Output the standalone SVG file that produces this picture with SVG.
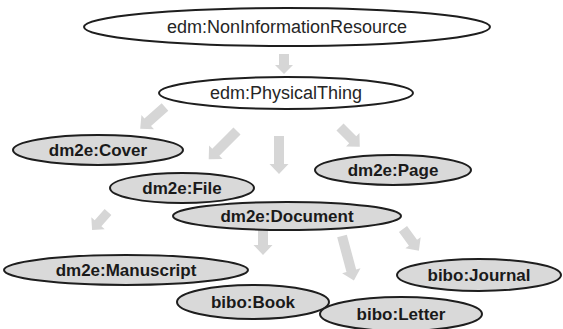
<svg xmlns="http://www.w3.org/2000/svg" width="563" height="329" viewBox="0 0 563 329">
  <style>
    .bg { fill: #ffffff; }
    .node-plain ellipse { fill: #ffffff; stroke: #1e1e1e; stroke-width: 2; }
    .node-sub ellipse { fill: #d9d9d9; stroke: #1e1e1e; stroke-width: 2; }
    .node-plain text { font-family: "Liberation Sans", Arial, sans-serif; font-size: 18px; fill: #262626; text-anchor: middle; }
    .node-sub text { font-family: "Liberation Sans", Arial, sans-serif; font-size: 17px; font-weight: bold; fill: #1a1a1a; text-anchor: middle; }
    .arrow { fill: #d6d6d6; stroke: none; }
  </style>
  <rect class="bg" x="0" y="0" width="563" height="329"/>

  <!-- block arrows: local shape points along +x, tail at origin -->
  <g id="connectors">
    <path class="arrow" transform="translate(284,54) rotate(90)" d="M0,-5 H11 V-9 L20,0 L11,9 V5 H0 Z"/>
    <path class="arrow" transform="translate(165,107) rotate(138.7)" d="M0,-5 H23 V-9.5 L33,0 L23,9.5 V5 H0 Z"/>
    <path class="arrow" transform="translate(237,131) rotate(135)" d="M0,-5 H30 V-9.5 L40,0 L30,9.5 V5 H0 Z"/>
    <path class="arrow" transform="translate(279,136) rotate(90)" d="M0,-5 H28 V-9.5 L38,0 L28,9.5 V5 H0 Z"/>
    <path class="arrow" transform="translate(340,127) rotate(45)" d="M0,-5 H18 V-9.5 L28,0 L18,9.5 V5 H0 Z"/>
    <path class="arrow" transform="translate(108,212) rotate(131.6)" d="M0,-4.5 H15 V-9 L24,0 L15,9 V4.5 H0 Z"/>
    <path class="arrow" transform="translate(263,229) rotate(90)" d="M0,-5 H16 V-9.5 L26,0 L16,9.5 V5 H0 Z"/>
    <path class="arrow" transform="translate(342,236) rotate(75)" d="M0,-5 H36 V-9.5 L46,0 L36,9.5 V5 H0 Z"/>
    <path class="arrow" transform="translate(403,229) rotate(54)" d="M0,-5 H17 V-9.5 L27,0 L17,9.5 V5 H0 Z"/>
  </g>

  <g id="nonInformationResource" class="node-plain">
    <ellipse cx="287" cy="27" rx="203" ry="19"/>
    <text x="287" y="33">edm:NonInformationResource</text>
  </g>
  <g id="physicalThing" class="node-plain">
    <ellipse cx="286" cy="93" rx="127" ry="16"/>
    <text x="286" y="99">edm:PhysicalThing</text>
  </g>
  <g id="cover" class="node-sub">
    <ellipse cx="98" cy="150" rx="85" ry="15"/>
    <text x="98" y="156">dm2e:Cover</text>
  </g>
  <g id="file" class="node-sub">
    <ellipse cx="182" cy="188" rx="72" ry="15"/>
    <text x="182" y="194">dm2e:File</text>
  </g>
  <g id="page" class="node-sub">
    <ellipse cx="393" cy="170" rx="78" ry="15"/>
    <text x="393" y="176">dm2e:Page</text>
  </g>
  <g id="document" class="node-sub">
    <ellipse cx="287" cy="216" rx="114" ry="14"/>
    <text x="287" y="222">dm2e:Document</text>
  </g>
  <g id="manuscript" class="node-sub">
    <ellipse cx="126" cy="270" rx="122" ry="15"/>
    <text x="126" y="276">dm2e:Manuscript</text>
  </g>
  <g id="journal" class="node-sub">
    <ellipse cx="479" cy="275" rx="82" ry="16"/>
    <text x="479" y="281">bibo:Journal</text>
  </g>
  <g id="book" class="node-sub">
    <ellipse cx="253" cy="302" rx="76" ry="17"/>
    <text x="253" y="308">bibo:Book</text>
  </g>
  <g id="letter" class="node-sub">
    <ellipse cx="401" cy="314" rx="81" ry="17"/>
    <text x="401" y="320">bibo:Letter</text>
  </g>
</svg>
